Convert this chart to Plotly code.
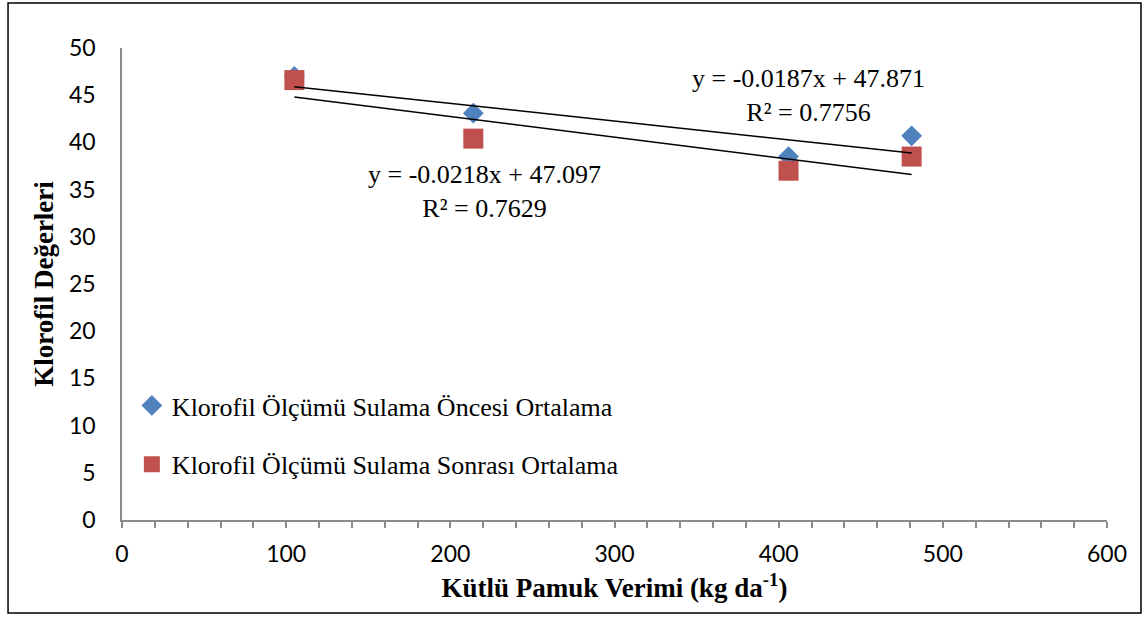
import numpy as np
import plotly.graph_objects as go

# Cotton yield (kg da-1) and chlorophyll readings
yield_kg = [105, 214, 406, 481]
before_irrigation = [47.0, 43.1, 38.5, 40.7]
after_irrigation = [46.6, 40.4, 37.0, 38.5]

# Linear trend coefficients (slope, intercept, R²)
trend_before = (-0.0187, 47.871, 0.7756)
trend_after = (-0.0218, 47.097, 0.7629)

name_before = "Klorofil Ölçümü Sulama Öncesi Ortalama"
name_after = "Klorofil Ölçümü Sulama Sonrası Ortalama"

blue = "#4F81BD"
red = "#C0504D"
serif = "Liberation Serif, Times New Roman, serif"
sans = "Lato, Calibri, sans-serif"

fig = go.Figure()

fig.add_trace(go.Scatter(
    x=yield_kg, y=before_irrigation, mode="markers", name=name_before,
    legendgroup="a",
    marker=dict(symbol="diamond", size=16, color=blue),
))
fig.add_trace(go.Scatter(
    x=yield_kg, y=after_irrigation, mode="markers", name=name_after,
    legendgroup="b",
    marker=dict(symbol="square", size=20, color=red),
))

xs = np.array([min(yield_kg), max(yield_kg)], dtype=float)
for slope, intercept, _ in (trend_before, trend_after):
    fig.add_trace(go.Scatter(
        x=xs, y=slope * xs + intercept, mode="lines",
        line=dict(color="black", width=1.5), showlegend=False,
        hoverinfo="skip",
    ))


def eq_text(slope, intercept, r2):
    return f"y = {slope:.4f}x + {intercept:.3f}<br>R² = {r2:.4f}"


fig.add_annotation(
    x=418, y=45.0, xref="x", yref="y", text=eq_text(*trend_before),
    showarrow=False, font=dict(family=serif, size=26, color="black"),
    align="center", yanchor="middle",
)
fig.add_annotation(
    x=221, y=34.8, xref="x", yref="y", text=eq_text(*trend_after),
    showarrow=False, font=dict(family=serif, size=26, color="black"),
    align="center", yanchor="middle",
)

# Outer frame around the whole chart
fig.add_shape(
    type="rect", xref="paper", yref="paper",
    x0=-0.1157, x1=1.0345, y0=-0.197, y1=1.0953,
    line=dict(color="black", width=1.5), fillcolor="rgba(0,0,0,0)",
    layer="below",
)

axis_grey = "#8c8c8c"
fig.update_layout(
    width=1148, height=619,
    margin=dict(l=122, r=41, t=48, b=99),
    paper_bgcolor="white", plot_bgcolor="white",
    showlegend=True,
    legend=dict(
        x=0.01, y=0.18, xanchor="left", yanchor="middle",
        font=dict(family=serif, size=26, color="black"),
        tracegroupgap=22, bgcolor="rgba(0,0,0,0)",
    ),
    xaxis=dict(
        range=[0, 600], dtick=100, tick0=0,
        showgrid=False, zeroline=False,
        showline=True, linecolor=axis_grey, linewidth=1.5,
        ticks="outside", ticklen=6, tickcolor=axis_grey, tickwidth=1.5,
        minor=dict(dtick=20, ticks="outside", ticklen=6,
                   tickcolor=axis_grey, tickwidth=1.5, showgrid=False),
        ticklabelstandoff=7,
        tickfont=dict(family=sans, size=23, color="black"),
        title=dict(
            text="<b>Kütlü Pamuk Verimi (kg da<sup>-1</sup>)</b>",
            font=dict(family=serif, size=27, color="black"), standoff=12,
        ),
    ),
    yaxis=dict(
        range=[0, 50], dtick=5, tick0=0,
        showgrid=False, zeroline=False,
        showline=True, linecolor=axis_grey, linewidth=1.5,
        ticks="", ticklabelstandoff=20,
        tickfont=dict(family=sans, size=23, color="black"),
        title=dict(
            text="<b>Klorofil Değerleri</b>",
            font=dict(family=serif, size=27, color="black"), standoff=8,
        ),
    ),
)

fig.write_html("out.html")
